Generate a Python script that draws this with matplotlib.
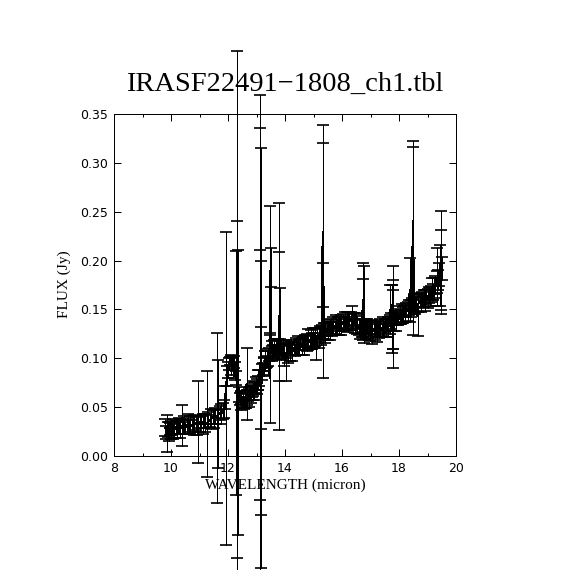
import matplotlib
matplotlib.use("Agg")
import matplotlib.pyplot as plt
from matplotlib.ticker import MultipleLocator, FormatStrFormatter

# spectrum table: wavelength (micron), flux (Jy), flux error (Jy)
wavelength = [
    9.80, 9.83, 9.86, 9.90, 9.93, 9.96, 10.00, 10.04, 10.08, 10.12,
    10.16, 10.20, 10.25, 10.29, 10.33, 10.37, 10.41, 10.46, 10.50, 10.55,
    10.59, 10.64, 10.68, 10.73, 10.77, 10.82, 10.87, 10.91, 10.96, 11.01,
    11.06, 11.11, 11.16, 11.21, 11.26, 11.31, 11.36, 11.41, 11.46, 11.51,
    11.56, 11.61, 11.66, 11.71, 11.76, 11.81, 11.86, 11.90, 11.93, 11.96,
    12.00, 12.03, 12.06, 12.09, 12.12, 12.15, 12.18, 12.21, 12.24, 12.27,
    12.29, 12.31, 12.33, 12.35, 12.38, 12.41, 12.44, 12.47, 12.50, 12.53,
    12.56, 12.59, 12.62, 12.65, 12.68, 12.71, 12.74, 12.77, 12.80, 12.83,
    12.86, 12.89, 12.92, 12.95, 12.98, 13.01, 13.04, 13.07, 13.10, 13.12,
    13.13, 13.14, 13.15, 13.16, 13.17, 13.19, 13.22, 13.25, 13.28, 13.31,
    13.34, 13.37, 13.40, 13.43, 13.46, 13.49, 13.51, 13.53, 13.56, 13.59,
    13.62, 13.65, 13.68, 13.71, 13.74, 13.77, 13.79, 13.80, 13.81, 13.84,
    13.87, 13.90, 13.94, 13.98, 14.02, 14.06, 14.10, 14.14, 14.18, 14.22,
    14.26, 14.30, 14.34, 14.38, 14.42, 14.46, 14.50, 14.54, 14.58, 14.62,
    14.66, 14.70, 14.74, 14.78, 14.82, 14.86, 14.90, 14.94, 14.98, 15.02,
    15.06, 15.10, 15.14, 15.18, 15.22, 15.26, 15.29, 15.32, 15.33, 15.35,
    15.38, 15.42, 15.46, 15.50, 15.54, 15.58, 15.62, 15.66, 15.70, 15.74,
    15.78, 15.82, 15.86, 15.90, 15.94, 15.98, 16.02, 16.06, 16.10, 16.14,
    16.18, 16.22, 16.26, 16.30, 16.34, 16.38, 16.42, 16.46, 16.50, 16.54,
    16.58, 16.62, 16.66, 16.70, 16.72, 16.74, 16.76, 16.79, 16.83, 16.87,
    16.91, 16.95, 16.99, 17.03, 17.07, 17.11, 17.15, 17.19, 17.23, 17.27,
    17.31, 17.35, 17.39, 17.43, 17.47, 17.51, 17.55, 17.59, 17.63, 17.67,
    17.70, 17.73, 17.76, 17.77, 17.78, 17.79, 17.80, 17.83, 17.86, 17.90,
    17.94, 17.98, 18.02, 18.06, 18.10, 18.14, 18.18, 18.22, 18.26, 18.30,
    18.34, 18.38, 18.42, 18.46, 18.48, 18.50, 18.53, 18.57, 18.61, 18.65,
    18.68, 18.72, 18.76, 18.80, 18.84, 18.88, 18.92, 18.96, 19.00, 19.04,
    19.08, 19.12, 19.16, 19.20, 19.24, 19.28, 19.32, 19.35, 19.38, 19.41,
    19.44, 19.47, 19.49, 19.51,
]

flux = [
    .029, .024, .023, .027, .025, .028, .026, .029, .025, .028,
    .030, .027, .029, .031, .028, .031, .030, .032, .029, .031,
    .033, .030, .032, .031, .033, .032, .034, .031, .035, .033,
    .035, .033, .036, .034, .033, .037, .036, .038, .040, .038,
    .041, .039, .043, .044, .043, .046, .048, .060, .069, .082,
    .088, .094, .097, .092, .098, .095, .090, .096, .087, .080,
    .085, .075, .068, .065, .063, .058, .056, .060, .055, .057,
    .054, .058, .056, .074, .060, .062, .060, .064, .063, .066,
    .065, .068, .067, .070, .072, .071, .075, .078, .080, .095,
    .083, .092, .080, .100, .070, .086, .089, .091, .094, .097,
    .096, .099, .101, .104, .080, .190, .193, .105, .108, .107,
    .110, .108, .112, .109, .113, .111, .143, .143, .143, .112,
    .108, .106, .110, .104, .098, .108, .105, .109, .106, .110,
    .107, .111, .108, .112, .110, .113, .111, .114, .112, .115,
    .113, .116, .118, .116, .119, .117, .120, .118, .121, .119,
    .122, .110, .123, .121, .125, .123, .127, .229, .200, .175,
    .128, .126, .130, .128, .131, .129, .132, .130, .133, .131,
    .134, .132, .135, .133, .136, .134, .137, .135, .138, .136,
    .139, .137, .140, .138, .141, .138, .140, .136, .138, .134,
    .132, .130, .133, .131, .150, .160, .155, .132, .130, .133,
    .129, .131, .128, .130, .127, .130, .128, .131, .127, .130,
    .128, .131, .129, .132, .130, .133, .131, .134, .132, .136,
    .150, .138, .155, .140, .142, .140, .145, .137, .141, .138,
    .142, .140, .144, .142, .146, .144, .148, .146, .150, .148,
    .152, .170, .151, .155, .241, .220, .156, .153, .157, .143,
    .156, .159, .157, .160, .158, .161, .159, .163, .161, .165,
    .163, .167, .170, .168, .172, .175, .178, .183, .180, .186,
    .185, .190, .198, .192,
]

flux_err = [
    .009, .007, .019, .008, .010, .006, .009, .007, .008, .010,
    .007, .009, .006, .008, .010, .021, .007, .009, .006, .008,
    .010, .007, .009, .006, .008, .010, .007, .009, .042, .008,
    .006, .010, .007, .009, .054, .008, .006, .010, .007, .009,
    .008, .087, .055, .007, .010, .008, .009, .012, .160, .010,
    .008, .006, .004, .009, .005, .007, .010, .006, .009, .007,
    .125, .339, .172, .146, .008, .006, .009, .007, .005, .008,
    .006, .009, .007, .037, .008, .006, .010, .007, .009, .006,
    .008, .007, .010, .006, .009, .008, .007, .010, .008, .274,
    .128, .244, .052, .215, .130, .008, .006, .009, .007, .010,
    .006, .008, .009, .007, .046, .066, .020, .008, .010, .007,
    .009, .006, .008, .010, .007, .009, .116, .066, .029, .008,
    .010, .007, .009, .012, .021, .008, .010, .006, .009, .007,
    .010, .008, .006, .009, .007, .010, .008, .006, .009, .007,
    .010, .008, .006, .009, .011, .007, .009, .008, .010, .007,
    .009, .012, .007, .010, .008, .009, .007, .110, .120, .023,
    .008, .010, .007, .009, .006, .010, .008, .007, .009, .006,
    .010, .008, .007, .009, .006, .010, .008, .007, .009, .006,
    .008, .010, .007, .009, .012, .008, .006, .010, .007, .009,
    .008, .010, .006, .009, .031, .038, .039, .008, .010, .007,
    .009, .006, .010, .008, .012, .007, .009, .006, .010, .008,
    .007, .009, .006, .010, .008, .007, .009, .006, .010, .008,
    .025, .008, .020, .035, .052, .030, .035, .009, .007, .010,
    .008, .006, .009, .007, .010, .008, .006, .009, .007, .010,
    .008, .033, .009, .007, .081, .096, .010, .008, .006, .020,
    .009, .007, .010, .008, .006, .009, .011, .007, .010, .008,
    .009, .007, .012, .008, .010, .009, .011, .030, .010, .012,
    .031, .041, .053, .012,
]

assert len(wavelength) == len(flux) == len(flux_err)

title = "IRASF22491\u22121808_ch1.tbl"
serif = ["Liberation Serif", "DejaVu Serif"]

fig = plt.figure(figsize=(5.7, 5.7), dpi=100)
ax = fig.add_axes([0.2, 0.2, 0.6, 0.6])

# data line and error bars
ax.plot(wavelength, flux, color="black", lw=0.72, antialiased=False)
eb = ax.errorbar(wavelength, flux, yerr=flux_err, fmt="none", ecolor="black",
                 elinewidth=0.72, capsize=4, capthick=1.2, clip_on=False)
for c in eb[2]:
    c.set_antialiased(False)
    c.set_clip_on(False)
for c in eb[1]:
    c.set_antialiased(False)
    c.set_clip_on(False)

ax.set_xlim(8, 20)
ax.set_ylim(0, 0.35)
ax.xaxis.set_major_locator(MultipleLocator(2))
ax.xaxis.set_minor_locator(MultipleLocator(1))
ax.yaxis.set_major_locator(MultipleLocator(0.05))
ax.yaxis.set_major_formatter(FormatStrFormatter("%.2f"))
ax.tick_params(which="both", direction="in", top=True, right=True,
               width=0.72, colors="black", labelsize=9, pad=4.5)
ax.tick_params(which="major", length=5)
ax.tick_params(which="minor", length=2.5)
for s in ax.spines.values():
    s.set_linewidth(0.72)

fig.text(0.5, 1 - 91 / 570, title, ha="center", va="baseline",
         family=serif, fontsize=20.5)
fig.text(0.5, 1 - 489 / 570, "WAVELENGTH (micron)", ha="center",
         va="baseline", family=serif, fontsize=11)
fig.text(64 / 570, 1 - 284 / 570, "FLUX (Jy)", ha="center", va="center",
         rotation=90, family=serif, fontsize=11)

fig.savefig("out.png", dpi=100, facecolor="white")
